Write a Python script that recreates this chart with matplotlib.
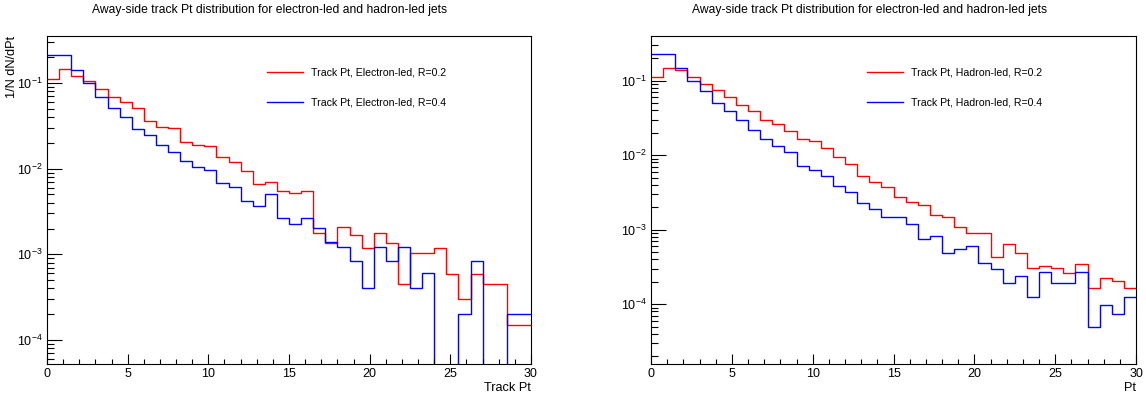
import numpy as np
import matplotlib
matplotlib.use("Agg")
import matplotlib.pyplot as plt
from matplotlib.ticker import LogLocator, NullFormatter, MultipleLocator

plt.rcParams["font.family"] = ["Liberation Sans", "DejaVu Sans"]

# 40 bins of 0.75 between 0 and 30
pt_lo, pt_hi, n_bins = 0.0, 30.0, 40
edges = np.linspace(pt_lo, pt_hi, n_bins + 1)

title = "Away-side track Pt distribution for electron-led and hadron-led jets"

# electron-led jets
ele_r02 = [0.112, 0.146, 0.122, 0.105, 0.085, 0.069, 0.0607, 0.0512, 0.0358, 0.0307,
           0.0299, 0.0202, 0.0188, 0.0183, 0.0135, 0.0120, 0.00926, 0.00665, 0.0069, 0.00542,
           0.00522, 0.00547, 0.00179, 0.00136, 0.0021, 0.00166, 0.00119, 0.00179, 0.00136, 0.000447,
           0.00104, 0.00104, 0.00119, 0.000589, 0.000301, 0.000589, 0.000447, 0.000447, 0.000149, 0.000149]
ele_r04 = [0.214, 0.210, 0.143, 0.099, 0.069, 0.0512, 0.0402, 0.0291, 0.0246, 0.0191,
           0.0155, 0.0122, 0.0105, 0.00953, 0.00672, 0.00614, 0.00422, 0.00366, 0.00508, 0.00263,
           0.00226, 0.00263, 0.00204, 0.0014, 0.00123, 0.000836, 0.000408, 0.00123, 0.000836, 0.00123,
           0.000408, 0.0006, 0.0, 0.0, 0.000201, 0.00083, 0.0, 0.0, 0.000202, 0.000202]

# hadron-led jets
had_r02 = [0.1127, 0.149, 0.139, 0.1107, 0.090, 0.0741, 0.0597, 0.047, 0.0391, 0.0296,
           0.0259, 0.0211, 0.0164, 0.0156, 0.01256, 0.00953, 0.00752, 0.00525, 0.00431, 0.00377,
           0.00271, 0.00232, 0.00214, 0.00158, 0.00146, 0.00108, 0.000908, 0.000908, 0.000425, 0.000634,
           0.000485, 0.000308, 0.000325, 0.000308, 0.000261, 0.000342, 0.000164, 0.000224, 0.000206, 0.000163]
had_r04 = [0.2296, 0.2253, 0.149, 0.0997, 0.0725, 0.050, 0.0394, 0.0293, 0.0215, 0.0166,
           0.01324, 0.0110, 0.00715, 0.00625, 0.00525, 0.00388, 0.0032, 0.002253, 0.00191, 0.00146,
           0.00149, 0.001178, 0.000748, 0.000828, 0.000481, 0.000544, 0.000597, 0.00036, 0.000293, 0.000194,
           0.00024, 0.0001245, 0.000267, 0.000194, 0.000194, 0.000267, 4.98e-5, 9.64e-5, 7.36e-5, 0.000123]

W, H = 1146, 398
fig = plt.figure(figsize=(W / 100, H / 100), dpi=100)

panels = [
    dict(rect=(47, 36, 531, 364), a=ele_r02, b=ele_r04, la="Track Pt, Electron-led, R=0.2",
         lb="Track Pt, Electron-led, R=0.4", xlab="Track Pt", ylab="1/N dN/dPt",
         ylim=(5.25e-5, 0.353), title_x=270, leg_x=0.455),
    dict(rect=(651, 36, 1136, 364), a=had_r02, b=had_r04, la="Track Pt, Hadron-led, R=0.2",
         lb="Track Pt, Hadron-led, R=0.4", xlab="Pt", ylab=None,
         ylim=(1.57e-5, 0.397), title_x=870, leg_x=0.445),
]

for p in panels:
    x0, y0, x1, y1 = p["rect"]
    ax = fig.add_axes([x0 / W, (H - y1) / H, (x1 - x0) / W, (y1 - y0) / H])
    ax.set_yscale("log", nonpositive="clip")
    ax.stairs(p["a"], edges, color="#ff0000", lw=1.0, baseline=None, label=p["la"])
    ax.stairs(p["b"], edges, color="#0000ff", lw=1.0, baseline=None, label=p["lb"])
    ax.set_xlim(pt_lo, pt_hi)
    ax.set_ylim(*p["ylim"])

    ax.xaxis.set_major_locator(MultipleLocator(5))
    ax.xaxis.set_minor_locator(MultipleLocator(1))
    ax.yaxis.set_major_locator(LogLocator(base=10))
    ax.yaxis.set_minor_locator(LogLocator(base=10, subs=np.arange(2, 10)))
    ax.yaxis.set_minor_formatter(NullFormatter())
    ax.tick_params(axis="x", which="major", direction="in", length=7.1, width=0.8, labelsize=9, pad=3)
    ax.tick_params(axis="x", which="minor", direction="in", length=3.5, width=0.8)
    ax.tick_params(axis="y", which="major", direction="in", length=10.5, width=0.8, labelsize=9, pad=3)
    ax.tick_params(axis="y", which="minor", direction="in", length=5.2, width=0.8)
    for s in ax.spines.values():
        s.set_linewidth(0.8)

    ax.set_xlabel(p["xlab"], fontsize=9.2, loc="right")
    ax.xaxis.set_label_coords(1.0, -0.073)
    ax.xaxis.label.set_va("center")
    if p["ylab"]:
        ax.set_ylabel(p["ylab"], fontsize=9.2, loc="top")
        ax.yaxis.set_label_coords(-0.06, 1.0)

    ax.legend(loc="upper left", bbox_to_anchor=(p["leg_x"], 0.903), frameon=False, fontsize=7.6,
              handlelength=3.4, handletextpad=0.75, labelspacing=1.85, borderpad=0, borderaxespad=0)

    fig.text(p["title_x"] / W, (H - 10) / H, title, ha="center", va="center", fontsize=8.7)

fig.savefig("out.png", dpi=100)
